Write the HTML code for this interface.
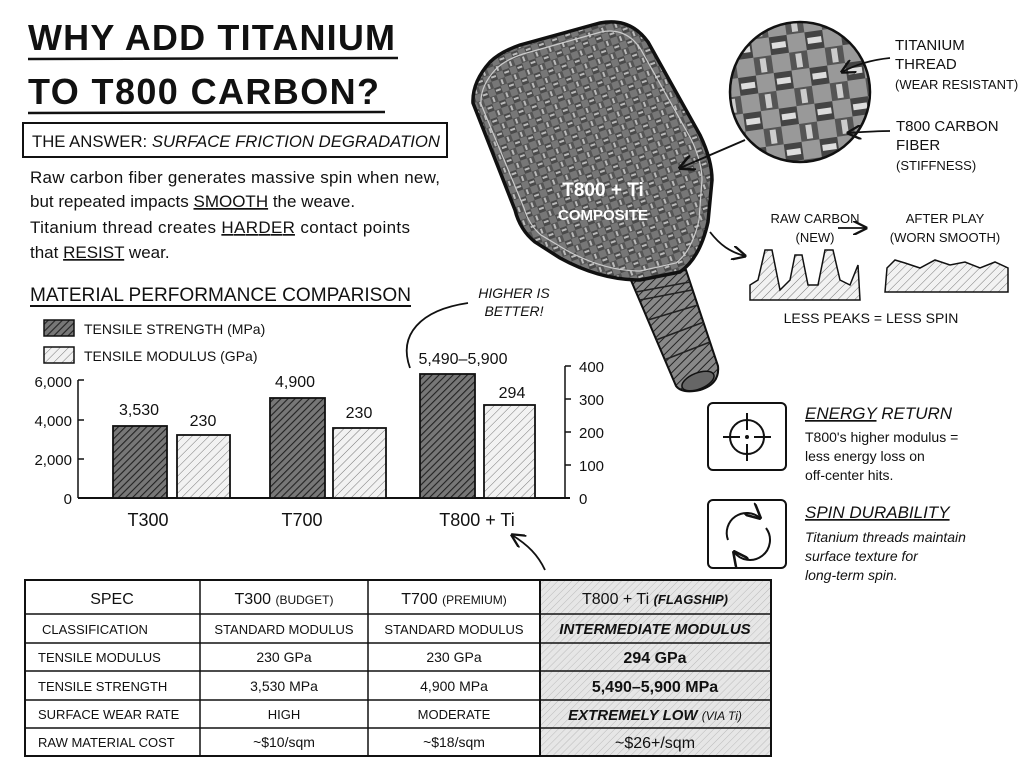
<!DOCTYPE html>
<html><head><meta charset="utf-8"><style>
body{margin:0;background:#fff}
svg{display:block}
text{font-family:"Liberation Sans",sans-serif;fill:#111}
</style></head><body>
<svg width="1024" height="768" viewBox="0 0 1024 768" xmlns="http://www.w3.org/2000/svg">
<defs>
<pattern id="dk" width="5" height="5" patternUnits="userSpaceOnUse" patternTransform="rotate(45)">
<rect width="5" height="5" fill="#777"/><line x1="0" y1="0" x2="0" y2="5" stroke="#222" stroke-width="2.2"/></pattern>
<pattern id="lt" width="6" height="6" patternUnits="userSpaceOnUse" patternTransform="rotate(45)">
<rect width="6" height="6" fill="#f2f2f2"/><line x1="0" y1="0" x2="0" y2="6" stroke="#777" stroke-width="1"/></pattern>
<pattern id="tb" width="5" height="5" patternUnits="userSpaceOnUse" patternTransform="rotate(45)">
<rect width="5" height="5" fill="#e6e6e6"/><line x1="0" y1="0" x2="0" y2="5" stroke="#bbb" stroke-width="1"/></pattern>
<pattern id="weave" width="14" height="14" patternUnits="userSpaceOnUse" patternTransform="rotate(-20)">
<rect width="14" height="14" fill="#777"/><rect x="0" y="0" width="7" height="7" fill="#4a4a4a"/><rect x="7" y="7" width="7" height="7" fill="#555"/><rect x="1" y="2" width="5" height="2" fill="#bbb"/><rect x="9" y="8" width="2" height="5" fill="#bbb"/></pattern>
<pattern id="grip" width="6" height="6" patternUnits="userSpaceOnUse" patternTransform="rotate(45)">
<rect width="6" height="6" fill="#888"/><line x1="0" y1="0" x2="0" y2="6" stroke="#222" stroke-width="2"/></pattern>
<pattern id="mag" width="36" height="36" patternUnits="userSpaceOnUse" patternTransform="rotate(-8)">
<rect width="36" height="36" fill="#999"/><rect x="0" y="0" width="18" height="18" fill="#444"/><rect x="18" y="18" width="18" height="18" fill="#555"/><rect x="2" y="6" width="14" height="6" fill="#ddd"/><rect x="24" y="20" width="6" height="14" fill="#ccc"/></pattern>
<marker id="ar" viewBox="0 0 10 10" refX="9" refY="5" markerWidth="8" markerHeight="8" orient="auto"><path d="M0,0 L10,5 L0,10" fill="none" stroke="#111" stroke-width="1.6"/></marker>
</defs>

<!-- Title -->
<text x="28" y="50" font-size="36" font-weight="bold" letter-spacing="1" textLength="368">WHY ADD TITANIUM</text>
<line x1="28" y1="59" x2="398" y2="58" stroke="#111" stroke-width="2.5"/>
<text x="28" y="104" font-size="36" font-weight="bold" letter-spacing="1" textLength="352">TO T800 CARBON?</text>
<line x1="28" y1="113" x2="385" y2="112" stroke="#111" stroke-width="2.5"/>

<rect x="23" y="123" width="424" height="34" fill="none" stroke="#111" stroke-width="2"/>
<text x="32" y="147" font-size="17" textLength="408" lengthAdjust="spacingAndGlyphs">THE ANSWER: <tspan font-style="italic">SURFACE FRICTION DEGRADATION</tspan></text>

<g font-size="17">
<text x="30" y="183" textLength="410">Raw carbon fiber generates massive spin when new,</text>
<text x="30" y="207">but repeated impacts <tspan text-decoration="underline">SMOOTH</tspan> the weave.</text>
<text x="30" y="233" textLength="380">Titanium thread creates <tspan text-decoration="underline">HARDER</tspan> contact points</text>
<text x="30" y="258">that <tspan text-decoration="underline">RESIST</tspan> wear.</text>
</g>

<!-- Chart -->
<text x="30" y="301" font-size="19" textLength="381" lengthAdjust="spacingAndGlyphs">MATERIAL PERFORMANCE COMPARISON</text>
<line x1="30" y1="306" x2="411" y2="306" stroke="#111" stroke-width="2"/>
<rect x="44" y="320" width="30" height="16" fill="url(#dk)" stroke="#111" stroke-width="1.5"/>
<text x="84" y="334" font-size="14">TENSILE STRENGTH (MPa)</text>
<rect x="44" y="347" width="30" height="16" fill="url(#lt)" stroke="#111" stroke-width="1.5"/>
<text x="84" y="361" font-size="14">TENSILE MODULUS (GPa)</text>

<g font-size="15" text-anchor="end">
<text x="72" y="387">6,000</text><text x="72" y="426">4,000</text><text x="72" y="465">2,000</text><text x="72" y="504">0</text>
</g>
<g stroke="#111" stroke-width="1.5">
<line x1="78" y1="380" x2="78" y2="498"/><line x1="78" y1="380" x2="84" y2="380"/><line x1="78" y1="420" x2="84" y2="420"/><line x1="78" y1="459" x2="84" y2="459"/>
<line x1="78" y1="498" x2="570" y2="498" stroke-width="2"/>
<line x1="565" y1="366" x2="565" y2="498"/>
<line x1="565" y1="366" x2="571" y2="366"/><line x1="565" y1="399" x2="571" y2="399"/><line x1="565" y1="432" x2="571" y2="432"/><line x1="565" y1="465" x2="571" y2="465"/>
</g>
<g font-size="15">
<text x="579" y="372">400</text><text x="579" y="405">300</text><text x="579" y="438">200</text><text x="579" y="471">100</text><text x="579" y="504">0</text>
</g>
<g stroke="#111" stroke-width="1.8">
<rect x="113" y="426" width="54" height="72" fill="url(#dk)"/>
<rect x="177" y="435" width="53" height="63" fill="url(#lt)"/>
<rect x="270" y="398" width="55" height="100" fill="url(#dk)"/>
<rect x="333" y="428" width="53" height="70" fill="url(#lt)"/>
<rect x="420" y="374" width="55" height="124" fill="url(#dk)"/>
<rect x="484" y="405" width="51" height="93" fill="url(#lt)"/>
</g>
<g font-size="16" text-anchor="middle">
<text x="139" y="415">3,530</text><text x="203" y="426">230</text>
<text x="295" y="387">4,900</text><text x="359" y="418">230</text>
<text x="463" y="364">5,490–5,900</text><text x="512" y="398">294</text>
</g>
<g font-size="18" text-anchor="middle">
<text x="148" y="526">T300</text><text x="302" y="526">T700</text><text x="477" y="526">T800 + Ti</text>
</g>
<text x="514" y="298" font-size="14" font-style="italic" text-anchor="middle">HIGHER IS</text>
<text x="514" y="316" font-size="14" font-style="italic" text-anchor="middle">BETTER!</text>
<path d="M468,303 C420,310 398,335 410,368" fill="none" stroke="#111" stroke-width="1.8"/>
<path d="M545,570 C538,555 528,545 512,535" fill="none" stroke="#111" stroke-width="1.8" marker-end="url(#ar)"/>

<!-- Paddle handle -->
<path d="M630,278 L686,270 L718,366 Q720,384 700,390 Q682,394 676,386 Z" fill="url(#grip)" stroke="#111" stroke-width="2"/>
<g stroke="#222" stroke-width="1.5" fill="none">
<path d="M636,292 L690,282"/><path d="M640,300 L692,290"/><path d="M648,320 L698,305"/><path d="M656,340 L704,322"/><path d="M664,360 L710,342"/>
</g>
<ellipse cx="698" cy="381" rx="17" ry="8" transform="rotate(-22 698 381)" fill="#666" stroke="#111" stroke-width="1.5"/>
<!-- Paddle head -->
<path d="M473,103 Q472,82 490,62 Q500,52 520,45 L600,23 Q630,17 648,42 L700,135 Q712,160 712,180 L708,222 Q700,258 680,272 L640,280 Q600,280 560,258 L535,242 Q520,230 515,210 Z" fill="url(#weave)" stroke="#111" stroke-width="3.5"/>
<path d="M481,104 Q480,86 496,69 Q505,60 523,54 L601,32 Q625,27 640,48 L691,139 Q702,162 702,180 L699,220 Q692,251 676,263 L640,271 Q604,271 566,250 L541,235 Q529,225 524,208 Z" fill="none" stroke="#ccc" stroke-width="1.2"/>
<text x="603" y="196" font-size="19" text-anchor="middle" font-weight="bold" style="fill:#fff">T800 + Ti</text>
<text x="603" y="220" font-size="15" text-anchor="middle" font-weight="bold" style="fill:#fff">COMPOSITE</text>

<!-- Magnifier -->
<circle cx="800" cy="92" r="70" fill="url(#mag)" stroke="#111" stroke-width="2.5"/>
<path d="M745,140 L680,168" stroke="#111" stroke-width="2" fill="none" marker-end="url(#ar)"/>
<g font-size="15">
<text x="895" y="50">TITANIUM</text><text x="895" y="69">THREAD</text>
<text x="895" y="89" font-size="13">(WEAR RESISTANT)</text>
<text x="896" y="131">T800 CARBON</text><text x="896" y="150">FIBER</text>
<text x="896" y="170" font-size="13">(STIFFNESS)</text>
</g>
<path d="M890,58 C870,60 855,65 842,72" fill="none" stroke="#111" stroke-width="1.8" marker-end="url(#ar)"/>
<path d="M890,131 C875,131 862,132 848,133" fill="none" stroke="#111" stroke-width="1.8" marker-end="url(#ar)"/>

<!-- Surface -->
<g font-size="13" text-anchor="middle">
<text x="815" y="223">RAW CARBON</text><text x="815" y="242">(NEW)</text>
<text x="945" y="223">AFTER PLAY</text><text x="945" y="242">(WORN SMOOTH)</text>
</g>
<path d="M838,228 L866,228" stroke="#111" stroke-width="1.8" marker-end="url(#ar)"/>
<path d="M710,232 C720,245 730,252 745,256" fill="none" stroke="#111" stroke-width="1.8" marker-end="url(#ar)"/>
<path d="M750,300 L750,285 L758,280 L765,250 L772,250 L780,290 L790,280 L795,255 L802,255 L808,285 L818,285 L825,250 L833,250 L840,280 L850,285 L858,265 L860,300 Z" fill="url(#lt)" stroke="#111" stroke-width="1.5"/>
<path d="M885,292 L887,268 L895,260 L905,263 L920,268 L935,260 L950,265 L965,262 L980,268 L995,262 L1008,268 L1008,292 Z" fill="url(#lt)" stroke="#111" stroke-width="1.5"/>
<text x="871" y="323" font-size="14" text-anchor="middle">LESS PEAKS = LESS SPIN</text>

<!-- Icons -->
<rect x="708" y="403" width="78" height="67" rx="5" fill="none" stroke="#111" stroke-width="2"/>
<circle cx="747" cy="437" r="17" fill="none" stroke="#111" stroke-width="2"/>
<g stroke="#111" stroke-width="2"><line x1="747" y1="413" x2="747" y2="430"/><line x1="747" y1="444" x2="747" y2="461"/><line x1="723" y1="437" x2="740" y2="437"/><line x1="754" y1="437" x2="771" y2="437"/></g>
<circle cx="747" cy="437" r="2" fill="#111"/>
<rect x="708" y="500" width="78" height="68" rx="5" fill="none" stroke="#111" stroke-width="2"/>
<path d="M728,540 A20,20 0 0 1 760,518" fill="none" stroke="#111" stroke-width="2" marker-end="url(#ar)"/>
<path d="M766,528 A20,20 0 0 1 734,552" fill="none" stroke="#111" stroke-width="2" marker-end="url(#ar)"/>
<text x="805" y="419" font-size="17" font-style="italic"><tspan text-decoration="underline">ENERGY</tspan> RETURN</text>
<g font-size="14"><text x="805" y="442">T800's higher modulus =</text><text x="805" y="461">less energy loss on</text><text x="805" y="480">off-center hits.</text></g>
<text x="805" y="518" font-size="17" font-style="italic" text-decoration="underline">SPIN DURABILITY</text>
<g font-size="14" font-style="italic"><text x="805" y="542">Titanium threads maintain</text><text x="805" y="561">surface texture for</text><text x="805" y="580">long-term spin.</text></g>

<!-- Table -->
<rect x="540" y="580" width="231" height="176" fill="url(#tb)"/>
<g stroke="#111" stroke-width="1.5" fill="none">
<rect x="25" y="580" width="746" height="176" stroke-width="2"/>
<line x1="25" y1="614" x2="771" y2="614"/><line x1="25" y1="643" x2="771" y2="643"/><line x1="25" y1="671" x2="771" y2="671"/><line x1="25" y1="700" x2="771" y2="700"/><line x1="25" y1="728" x2="771" y2="728"/>
<line x1="200" y1="580" x2="200" y2="756"/><line x1="368" y1="580" x2="368" y2="756"/><line x1="540" y1="580" x2="540" y2="756" stroke-width="2"/>
</g>
<g font-size="16" text-anchor="middle">
<text x="112" y="604">SPEC</text>
<text x="284" y="604">T300 <tspan font-size="12">(BUDGET)</tspan></text>
<text x="454" y="604">T700 <tspan font-size="12">(PREMIUM)</tspan></text>
<text x="655" y="604">T800 + Ti <tspan font-size="13" font-style="italic" font-weight="bold">(FLAGSHIP)</tspan></text>
</g>
<g font-size="13">
<text x="42" y="634">CLASSIFICATION</text><text x="38" y="662">TENSILE MODULUS</text><text x="38" y="691">TENSILE STRENGTH</text><text x="38" y="719">SURFACE WEAR RATE</text><text x="38" y="747">RAW MATERIAL COST</text>
</g>
<g font-size="13" text-anchor="middle">
<text x="284" y="634">STANDARD MODULUS</text><text x="284" y="662" font-size="14">230 GPa</text><text x="284" y="691" font-size="14">3,530 MPa</text><text x="284" y="719">HIGH</text><text x="284" y="747" font-size="14">~$10/sqm</text>
<text x="454" y="634">STANDARD MODULUS</text><text x="454" y="662" font-size="14">230 GPa</text><text x="454" y="691" font-size="14">4,900 MPa</text><text x="454" y="719">MODERATE</text><text x="454" y="747" font-size="14">~$18/sqm</text>
</g>
<g font-size="15" text-anchor="middle" font-weight="bold">
<text x="655" y="634" font-style="italic">INTERMEDIATE MODULUS</text>
<text x="655" y="663" font-size="16">294 GPa</text>
<text x="655" y="692" font-size="16">5,490–5,900 MPa</text>
<text x="655" y="720" font-style="italic">EXTREMELY LOW <tspan font-weight="normal" font-size="12">(VIA Ti)</tspan></text>
<text x="655" y="748" font-size="16" font-weight="normal">~$26+/sqm</text>
</g>
</svg>
</body></html>
